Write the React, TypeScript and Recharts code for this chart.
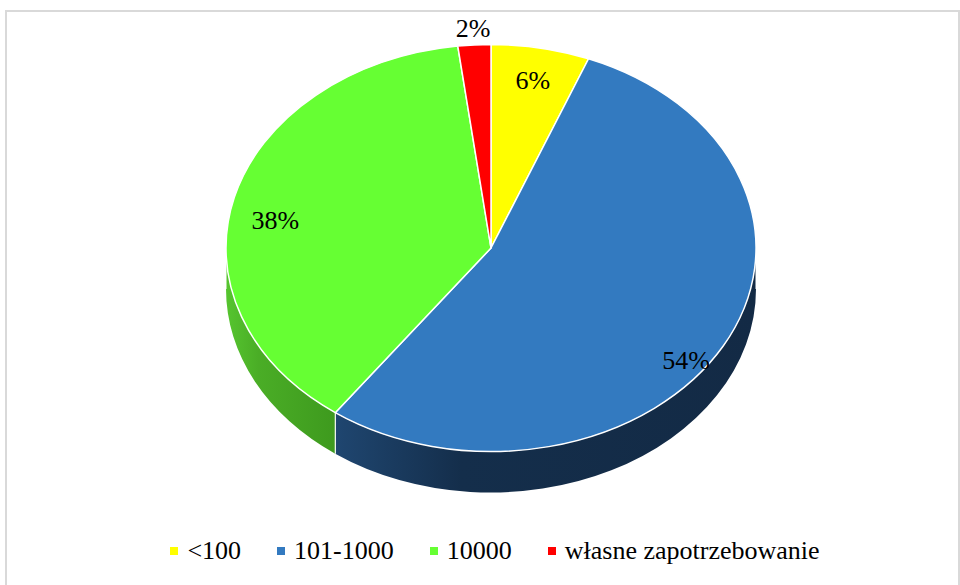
import React from "react";
import { PieChart, Pie, Legend } from "recharts";

// slice categories and their shares (percent)
const categories = ["<100", "101-1000", "10000", "własne zapotrzebowanie"];
const shares = [6, 54, 38, 2];
const topColors = ["#FFFF00", "#337AC0", "#66FF33", "#FF0000"];
// side wall shading: light -> mid -> dark
const sideColors = [
  ["#b2b200", "#9a9a00", "#8a8a00"],
  ["#1f4670", "#142e4b", "#132a45"],
  ["#56c52f", "#4aad26", "#3e9a1e"],
  ["#b20000", "#9a0000", "#8a0000"],
];

const data = categories.map((name, i) => ({
  name,
  value: shares[i],
  fill: topColors[i],
  idx: i,
}));

const TILT = 0.768;
const DEPTH = 41;
const RAD = Math.PI / 180;
const FONT = "Liberation Serif, Tinos, Times New Roman, serif";

function pt(cx: number, cy: number, r: number, a: number, dy = 0) {
  return [cx + r * Math.cos(a * RAD), cy - r * TILT * Math.sin(a * RAD) + dy];
}

function Slice3D(props: any) {
  const { cx, cy, outerRadius: r, startAngle, endAngle, fill } = props;
  const i = props.payload?.idx ?? props.idx ?? props.index ?? 0;
  const s = Math.max(startAngle, endAngle);
  const e = Math.min(startAngle, endAngle);
  const ry = r * TILT;

  // visible front walls: parts of the slice in the lower half of the ellipse
  const walls: number[][] = [];
  for (let k = -2; k <= 1; k++) {
    const lo = Math.max(e, -180 + 360 * k);
    const hi = Math.min(s, 360 * k);
    if (hi - lo > 0.01) walls.push([lo, hi]);
  }

  const [sx, sy] = pt(cx, cy, r, s);
  const [ex, ey] = pt(cx, cy, r, e);
  const large = s - e > 180 ? 1 : 0;
  const top = `M${cx},${cy} L${sx},${sy} A${r},${ry} 0 ${large} 1 ${ex},${ey} Z`;

  return (
    <g>
      {walls.map(([lo, hi], w) => {
        const [hx, hy] = pt(cx, cy, r, hi);
        const [lx, ly] = pt(cx, cy, r, lo);
        const d = `M${hx},${hy} A${r},${ry} 0 0 1 ${lx},${ly} L${lx},${ly + DEPTH} A${r},${ry} 0 0 0 ${hx},${hy + DEPTH} Z`;
        const id = `wall-${i}-${w}`;
        const c = sideColors[i];
        return (
          <g key={id}>
            <defs>
              <linearGradient id={id} gradientUnits="userSpaceOnUse" x1={lx} y1={0} x2={hx} y2={0}>
                <stop offset="0" stopColor={c[0]} />
                <stop offset="0.3" stopColor={c[1]} />
                <stop offset="1" stopColor={c[2]} />
              </linearGradient>
            </defs>
            <path d={d} fill={`url(#${id})`} stroke="none" />
            <line x1={lx} y1={ly} x2={lx} y2={ly + DEPTH} stroke="#ffffff" strokeWidth={1} />
            <line x1={hx} y1={hy} x2={hx} y2={hy + DEPTH} stroke="#ffffff" strokeWidth={1} />
          </g>
        );
      })}
      <path d={top} fill={fill} stroke="#ffffff" strokeWidth={1.5} strokeLinejoin="round" />
    </g>
  );
}

function renderLabel(props: any) {
  const { cx, cy, midAngle, outerRadius, percent } = props;
  const outside = percent < 0.05;
  const f = outside ? 1.08 : 0.84;
  const [x, y0] = pt(cx, cy, outerRadius * f, midAngle);
  const sin = Math.sin(midAngle * RAD);
  // inside labels sink towards the front, following the slab's depth
  const y = outside ? y0 : y0 + (DEPTH * (1 - sin)) / 2;
  return (
    <text
      x={x}
      y={y}
      textAnchor="middle"
      dominantBaseline="central"
      style={{ fontFamily: FONT, fontSize: 26 }}
      fill="#000000"
    >
      {`${Math.round(percent * 100)}%`}
    </text>
  );
}

function renderLegend(props: any) {
  const items = [...(props.payload ?? [])].sort(
    (a: any, b: any) => (a.payload?.idx ?? 0) - (b.payload?.idx ?? 0)
  );
  return (
    <div
      style={{
        display: "flex",
        justifyContent: "center",
        gap: 36,
        fontFamily: FONT,
        fontSize: 26,
        lineHeight: "34px",
        color: "#000000",
        paddingLeft: 30,
      }}
    >
      {items.map((p: any) => (
        <div key={p.value} style={{ display: "flex", alignItems: "center" }}>
          <span
            style={{
              display: "inline-block",
              width: 8,
              height: 8,
              background: p.color,
              marginRight: 9,
            }}
          />
          <span>{p.value}</span>
        </div>
      ))}
    </div>
  );
}

export default function App() {
  return (
    <div
      style={{
        position: "relative",
        width: 960,
        height: 585,
        overflow: "hidden",
        background: "#ffffff",
        fontFamily: FONT,
      }}
    >
      <style>{`body{margin:0}`}</style>
      <div
        style={{
          position: "absolute",
          left: 5,
          top: 10,
          width: 951,
          height: 700,
          border: "2px solid #d9d9d9",
        }}
      />
      <PieChart width={960} height={585} margin={{ top: 0, right: 0, bottom: 0, left: 0 }}>
        <Pie
          data={data}
          dataKey="value"
          nameKey="name"
          cx={491}
          cy={248}
          outerRadius={265}
          startAngle={90}
          endAngle={-270}
          stroke="none"
          shape={Slice3D}
          inactiveShape={Slice3D}
          activeShape={Slice3D}
          label={renderLabel}
          labelLine={false}
          isAnimationActive={false}
        />
        <Legend
          content={renderLegend}
          itemSorter={null as any}
          wrapperStyle={{ left: 0, top: 534, width: 960 }}
        />
      </PieChart>
    </div>
  );
}
